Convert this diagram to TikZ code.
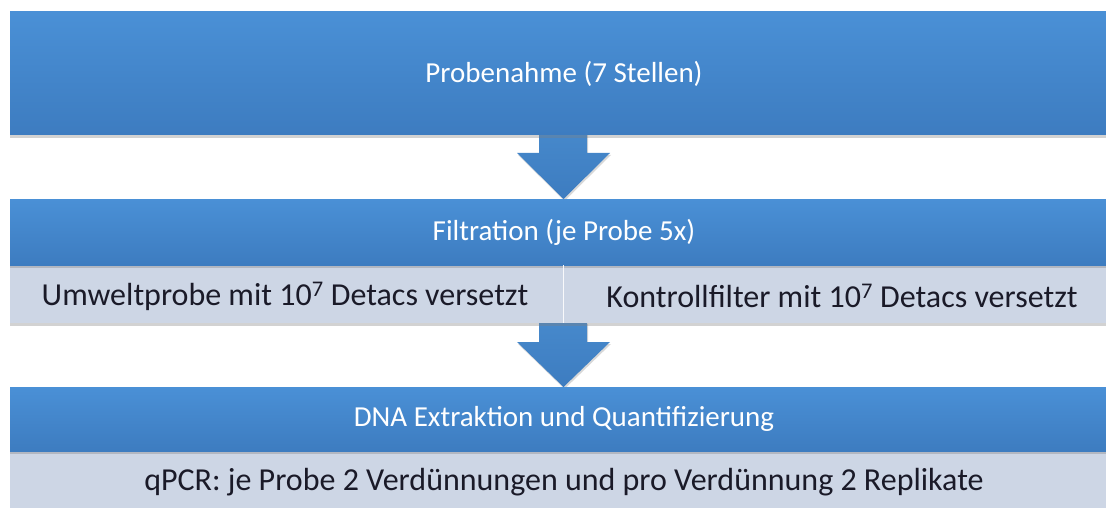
\documentclass[tikz,border=0pt]{standalone}
\usepackage{fontspec}
\setmainfont{Carlito}
\usetikzlibrary{shadows}
\definecolor{bluetop}{HTML}{4A90D6}
\definecolor{bluebot}{HTML}{3D7CC0}
\definecolor{band}{HTML}{CDD6E5}
\definecolor{darktxt}{HTML}{1A1A28}
\tikzset{
  bluebox/.style={rectangle, inner sep=0pt, top color=bluetop, bottom color=bluebot,
    text=white, font=\fontsize{29}{33}\selectfont,
    drop shadow={shadow xshift=0pt, shadow yshift=-3pt, opacity=0.35}},
  bandbox/.style={rectangle, inner sep=0pt, fill=band, text=darktxt,
    font=\fontsize{32}{36}\selectfont,
    drop shadow={shadow xshift=0pt, shadow yshift=-3pt, opacity=0.35}},
  bandtext/.style={text=darktxt, font=\fontsize{32}{36}\selectfont},
  bigarrow/.style={top color=bluetop!95!black, bottom color=bluebot,
    drop shadow={shadow xshift=1pt, shadow yshift=-2pt, opacity=0.3}},
}
\begin{document}
\begin{tikzpicture}[x=1pt,y=-1pt]
\useasboundingbox (0,0) rectangle (1106,508);
\fill[white] (0,0) rectangle (1106,508);
% arrows first (behind blocks)
\path[bigarrow] (539,130) -- (587,130) -- (587,153) -- (610,153) -- (563.5,199) -- (517,153) -- (539,153) -- cycle;
\path[bigarrow] (539,322) -- (587,322) -- (587,342) -- (610,342) -- (563.5,387) -- (517,342) -- (539,342) -- cycle;
% block 1
\node[bluebox, minimum width=1108pt, minimum height=123pt] (p) at (564,73.5) {Probenahme (7 Stellen)};
% block 2
\node[bandbox, minimum width=1108pt, minimum height=58pt] (fband) at (564,294) {};
\node[bluebox, minimum width=1108pt, minimum height=66pt] (f) at (564,232) {Filtration (je Probe 5x)};
\draw[white!85!band, line width=1pt] (563,265) -- (563,323);
\node[bandtext] (u) at (285,296) {Umweltprobe mit 10\textsuperscript{7} Detacs versetzt};
\node[bandtext] (k) at (842,296) {Kontrollfilter mit 10\textsuperscript{7} Detacs versetzt};
% block 3
\node[bandbox, minimum width=1108pt, minimum height=62pt] (q) at (564,482) {qPCR: je Probe 2 Verdünnungen und pro Verdünnung 2 Replikate};
\node[bluebox, minimum width=1108pt, minimum height=64pt] (d) at (564,419) {DNA Extraktion und Quantifizierung};
\end{tikzpicture}
\end{document}
